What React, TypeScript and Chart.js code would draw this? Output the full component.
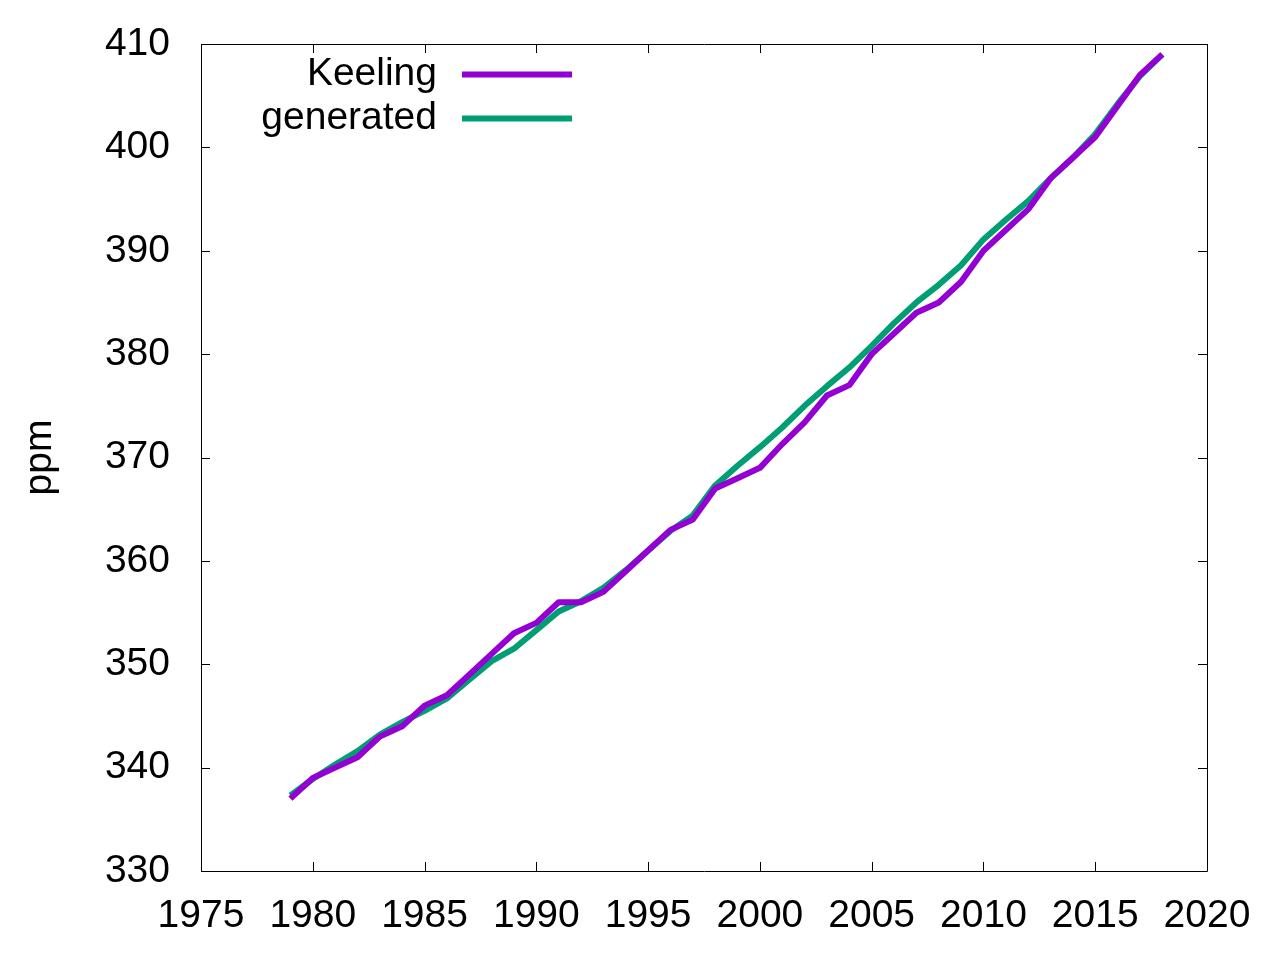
import React, { useEffect, useRef } from 'react';
import { Chart, registerables } from 'chart.js';

Chart.register(...registerables);

const years = [
  1979, 1980, 1981, 1982, 1983, 1984, 1985, 1986, 1987, 1988,
  1989, 1990, 1991, 1992, 1993, 1994, 1995, 1996, 1997, 1998,
  1999, 2000, 2001, 2002, 2003, 2004, 2005, 2006, 2007, 2008,
  2009, 2010, 2011, 2012, 2013, 2014, 2015, 2016, 2017, 2018,
];

const keeling = [
  337, 339, 340, 341, 343, 344, 346, 347, 349, 351,
  353, 354, 356, 356, 357, 359, 361, 363, 364, 367,
  368, 369, 371.3, 373.4, 376, 377, 380, 382, 384, 385,
  387, 390, 392, 394, 397, 399, 401, 404, 407, 409,
];

const generated = [
  337.3, 338.9, 340.3, 341.6, 343.2, 344.4, 345.5, 346.7, 348.5, 350.3,
  351.5, 353.3, 355.1, 356.1, 357.4, 359.1, 361.0, 362.9, 364.4, 367.3,
  369.2, 371.0, 372.9, 375.0, 376.9, 378.7, 380.8, 383.0, 385.0, 386.7,
  388.6, 391.1, 393.0, 394.8, 397.0, 399.0, 401.3, 404.2, 406.9, 409.0,
];

const seriesNames = ['Keeling', 'generated'];
const seriesColors = ['#9400D3', '#009E73'];

const FONT = "'Liberation Sans', Arial, sans-serif";
const FONT_SIZE = 39;

const noPadding = (scale: any) => {
  scale.paddingTop = 0;
  scale.paddingBottom = 0;
  scale.paddingLeft = 0;
  scale.paddingRight = 0;
};

// gnuplot-style frame with inward ticks on all four sides
const framePlugin = {
  id: 'frame',
  afterDatasetsDraw(chart: any) {
    const { ctx, chartArea } = chart;
    const { left, right, top, bottom } = chartArea;
    const tick = 9;
    ctx.save();
    ctx.strokeStyle = '#000';
    ctx.lineWidth = 1;
    ctx.beginPath();
    ctx.rect(left + 0.5, top + 0.5, right - left, bottom - top);
    ctx.stroke();
    const xs = chart.scales.x;
    const ys = chart.scales.y;
    ctx.beginPath();
    xs.ticks.forEach((t: any) => {
      const px = Math.round(xs.getPixelForValue(t.value)) + 0.5;
      ctx.moveTo(px, bottom);
      ctx.lineTo(px, bottom - tick);
      ctx.moveTo(px, top);
      ctx.lineTo(px, top + tick);
    });
    ys.ticks.forEach((t: any) => {
      const py = Math.round(ys.getPixelForValue(t.value)) + 0.5;
      ctx.moveTo(left, py);
      ctx.lineTo(left + tick, py);
      ctx.moveTo(right, py);
      ctx.lineTo(right - tick, py);
    });
    ctx.stroke();

    // key in top-left, text then line sample
    ctx.font = `${FONT_SIZE}px ${FONT}`;
    ctx.textAlign = 'right';
    ctx.textBaseline = 'middle';
    seriesNames.forEach((name, i) => {
      const y = top + 30.5 + i * 44;
      ctx.fillStyle = '#000';
      ctx.fillText(name, left + 236, y);
      ctx.strokeStyle = seriesColors[i];
      ctx.lineWidth = 6;
      ctx.beginPath();
      ctx.moveTo(left + 261, y);
      ctx.lineTo(left + 371, y);
      ctx.stroke();
    });
    ctx.restore();
  },
};

const App: React.FC = () => {
  const canvasRef = useRef<HTMLCanvasElement | null>(null);

  useEffect(() => {
    if (!canvasRef.current) return;
    const chart = new Chart(canvasRef.current, {
      type: 'line',
      data: {
        datasets: [keeling, generated].map((vals, i) => ({
          label: seriesNames[i],
          data: years.map((yr, j) => ({ x: yr, y: vals[j] })),
          borderColor: seriesColors[i],
          backgroundColor: seriesColors[i],
          borderWidth: 6,
          borderJoinStyle: 'round',
          pointRadius: 0,
          tension: 0,
          fill: false,
        })),
      },
      options: {
        animation: false,
        responsive: true,
        maintainAspectRatio: false,
        layout: { padding: { top: 44, right: 73, bottom: 0, left: 0 } },
        plugins: {
          legend: { display: false },
          tooltip: { enabled: false },
        },
        scales: {
          x: {
            type: 'linear',
            min: 1975,
            max: 2020,
            grid: { display: false },
            border: { display: false },
            afterFit: (scale: any) => { scale.height = 89; noPadding(scale); },
            ticks: {
              stepSize: 5,
              autoSkip: false,
              maxRotation: 0,
              padding: 14,
              color: '#000',
              font: { family: FONT, size: FONT_SIZE },
              callback: (v: any) => String(v),
            },
          },
          y: {
            min: 330,
            max: 410,
            grid: { display: false },
            border: { display: false },
            afterFit: (scale: any) => { scale.width = 201; noPadding(scale); },
            title: {
              display: true,
              text: 'ppm',
              color: '#000',
              font: { family: FONT, size: FONT_SIZE },
              padding: { top: 17, bottom: 0 },
            },
            ticks: {
              stepSize: 10,
              padding: 23,
              color: '#000',
              font: { family: FONT, size: FONT_SIZE },
            },
          },
        },
      },
      plugins: [framePlugin],
    } as any);
    return () => chart.destroy();
  }, []);

  return (
    <div style={{ position: 'absolute', left: 0, top: 0, width: 1280, height: 960, background: '#fff' }}>
      <canvas ref={canvasRef} />
    </div>
  );
};

export default App;
